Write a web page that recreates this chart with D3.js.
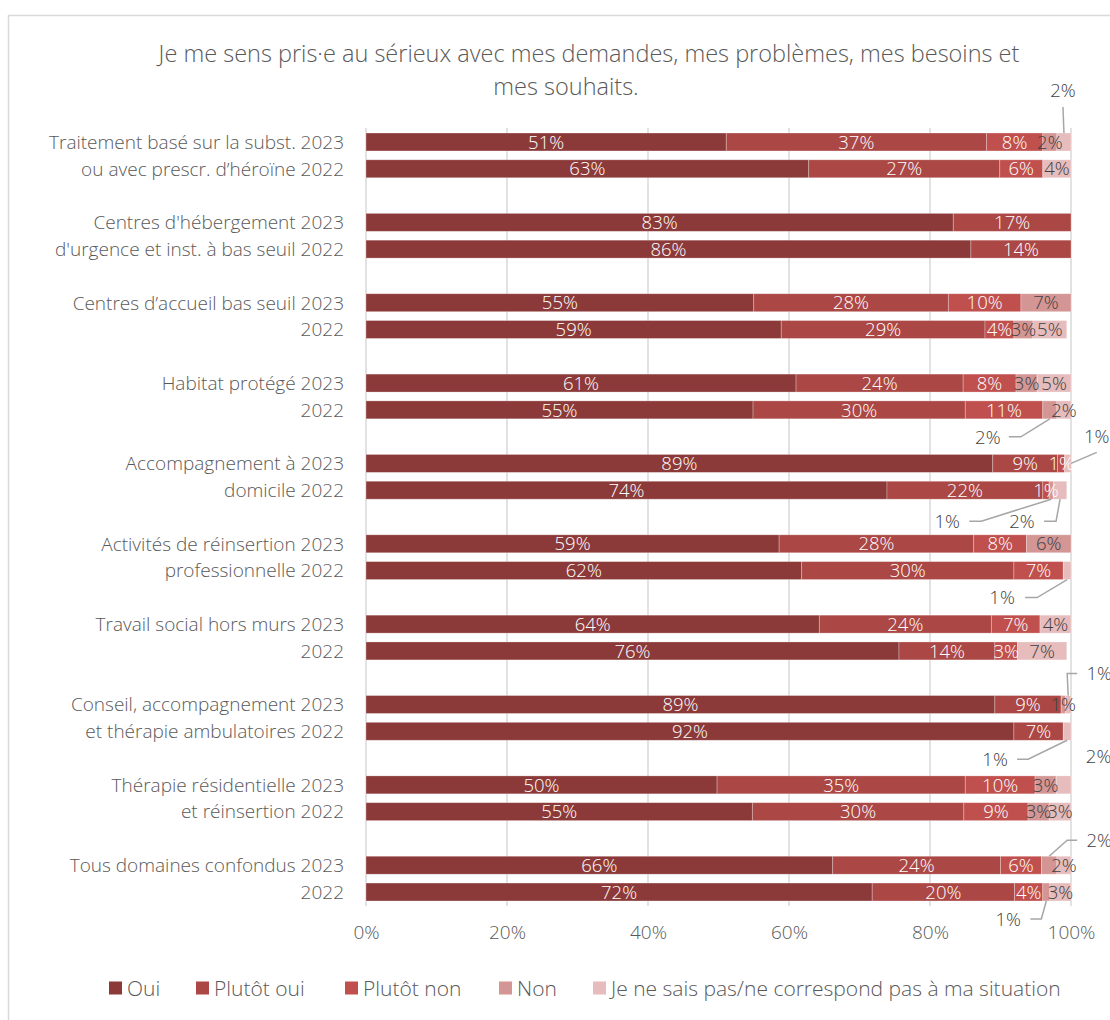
<!DOCTYPE html>
<html>
<head>
<meta charset="utf-8">
<script src="https://cdn.jsdelivr.net/npm/d3@7"></script>
<style>
  body { margin: 0; background: #fff; }
  text { font-family: "Open Sans", Lato, sans-serif; font-weight: 300; }
</style>
</head>
<body>
<div id="chart"></div>
<script>
// 0. Size of the picture
const width = 1110;
const height = 1020;

// Data: one entry per bar row, 2023 then 2022 for each domain
const groupFirstLine = [
  "Traitement basé sur la subst.",
  "Centres d'hébergement",
  "Centres d’accueil bas seuil",
  "Habitat protégé",
  "Accompagnement à",
  "Activités de réinsertion",
  "Travail social hors murs",
  "Conseil, accompagnement",
  "Thérapie résidentielle",
  "Tous domaines confondus",
];
const groupSecondLine = [
  "ou avec prescr. d’héroïne",
  "d'urgence et inst. à bas seuil",
  "",
  "",
  "domicile",
  "professionnelle",
  "",
  "et thérapie ambulatoires",
  "et réinsertion",
  "",
];
const years = ["2023", "2022"];

const seriesNames = [
  "Oui",
  "Plutôt oui",
  "Plutôt non",
  "Non",
  "Je ne sais pas/ne correspond pas à ma situation",
];

const oui = [51.1, 62.8, 83.3, 85.8, 55.0, 58.9, 61.0, 54.9, 88.9, 73.9, 58.6, 61.8, 64.3, 75.6, 89.2, 91.9, 49.8, 54.8, 66.2, 71.8];
const plutotOui = [36.9, 27.1, 16.7, 14.2, 27.6, 28.9, 23.7, 30.1, 9.2, 22.1, 27.6, 30.1, 24.4, 13.6, 9.4, 7.0, 35.2, 30.0, 23.8, 20.2];
const plutotNon = [8.0, 6.1, 0, 0, 10.3, 4.1, 7.5, 11.0, 1.0, 0.9, 7.5, 7.0, 6.9, 3.2, 0, 0, 9.9, 9.1, 5.8, 4.0];
const non = [2.0, 0, 0, 0, 7.1, 2.7, 3.0, 2.0, 0, 0.6, 6.3, 0, 0, 0, 0.6, 0, 3.0, 3.0, 2.2, 1.0];
const jnsp = [2.0, 4.0, 0, 0, 0, 4.8, 4.8, 2.0, 0.9, 1.9, 0, 1.1, 4.4, 7.0, 0.8, 1.1, 2.1, 3.1, 2.0, 3.0];

const tickValues = [0, 20, 40, 60, 80, 100];

const colors = ["#8C3A39", "#AB4745", "#C0504D", "#D49694", "#E6BCBC"];
const keys = ["oui", "plutotOui", "plutotNon", "non", "jnsp"];

// labels drawn outside the bar with a leader line (row, series, offsets of the label)
const callouts = [
  { row: 0, key: "jnsp", dx: -1, dy: -52, leader: [[0, 17]], end: "top" },
  { row: 7, key: "non", dx: -62, dy: 27, leader: [[21, 0], [33, 0]], end: "bottom" },
  { row: 8, key: "jnsp", dx: 29, dy: -27, leader: [[0, 16]], end: "right" },
  { row: 9, key: "non", dx: -104, dy: 31, leader: [[22, 0], [34, 0]], end: "bottom" },
  { row: 9, key: "jnsp", dx: -38, dy: 31, leader: [[22, 0], [34, 0]], end: "bottom" },
  { row: 11, key: "jnsp", dx: -65, dy: 27, leader: [[23, 0], [35, 0]], end: "bottom" },
  { row: 14, key: "jnsp", dx: 31, dy: -31, leader: [[-22, 0], [-32, 0]], end: "top" },
  { row: 15, key: "jnsp", dx: -72, dy: 28, leader: [[22, 0], [33, 0]], end: "bottom" },
  { row: 16, key: "jnsp", dx: 35, dy: -29, leader: [], end: null },
  { row: 18, key: "non", dx: 50, dy: -25, leader: [[-22, 0], [-32, 0]], end: "top" },
  { row: 19, key: "non", dx: -38, dy: 27, leader: [[22, 0], [33, 0]], end: "bottom" },
];

// 1. Build the table of rows
const rows = [];
groupFirstLine.forEach((g, gi) => {
  years.forEach((yr, yi) => {
    const i = gi * 2 + yi;
    const line = yi === 0 ? groupFirstLine[gi] : groupSecondLine[gi];
    rows.push({
      slot: gi * 3 + yi,
      label: (line ? line + " " : "") + yr,
      oui: oui[i],
      plutotOui: plutotOui[i],
      plutotNon: plutotNon[i],
      non: non[i],
      jnsp: jnsp[i],
    });
  });
});

const stacked = d3.stack().keys(keys)(rows);

// 2. Scales
const x = d3.scaleLinear().domain([0, 100]).range([366, 1071]);
const y = d3
  .scaleBand()
  .domain(d3.range(29))
  .range([128.6, 905.4])
  .paddingInner(0.33)
  .paddingOuter(0.165);

const svg = d3
  .select("#chart")
  .append("svg")
  .attr("width", width)
  .attr("height", height);

// border of the chart area
svg
  .append("rect")
  .attr("x", 8.5)
  .attr("y", 15.5)
  .attr("width", 1200)
  .attr("height", 1100)
  .attr("fill", "none")
  .attr("stroke", "#D9D9D9")
  .attr("stroke-width", 1.5);

// 3. Title
const titleLines = [
  "Je me sens pris·e au sérieux avec mes demandes, mes problèmes, mes besoins et",
  "mes souhaits.",
];
svg
  .selectAll(".title")
  .data(titleLines)
  .enter()
  .append("text")
  .attr("class", "title")
  .attr("x", (d, i) => (i === 0 ? 589 : 566))
  .attr("y", (d, i) => 62 + i * 33)
  .attr("text-anchor", "middle")
  .style("font-size", "23.5px")
  .style("fill", "#595959")
  .text((d) => d);

// 4. Gridlines
svg
  .append("g")
  .selectAll("line")
  .data(tickValues)
  .enter()
  .append("line")
  .attr("x1", (d) => x(d))
  .attr("x2", (d) => x(d))
  .attr("y1", 128)
  .attr("y2", 906)
  .attr("stroke", "#D9D9D9")
  .attr("stroke-width", 1.5);

// x axis labels
const xAxis = svg
  .append("g")
  .attr("transform", "translate(0,919)")
  .call(
    d3
      .axisBottom(x)
      .tickValues(tickValues)
      .tickSize(0)
      .tickPadding(6)
      .tickFormat((d) => d + "%")
  );
xAxis.select(".domain").remove();
xAxis
  .selectAll("text")
  .style("font-family", "'Open Sans', sans-serif")
  .style("font-weight", 300)
  .style("font-size", "19px")
  .style("fill", "#595959");

// 5. Bars
const layer = svg
  .selectAll(".layer")
  .data(stacked)
  .enter()
  .append("g")
  .attr("class", "layer")
  .attr("fill", (d, i) => colors[i]);

layer
  .selectAll("rect")
  .data((d) => d)
  .enter()
  .append("rect")
  .attr("x", (d) => x(d[0]))
  .attr("y", (d) => y(d.data.slot))
  .attr("width", (d) => x(d[1]) - x(d[0]))
  .attr("height", y.bandwidth())
  .attr("stroke", "#fff")
  .attr("stroke-opacity", 0.35)
  .attr("stroke-width", 0.8);

// labels inside segments
const isCallout = (row, key) =>
  callouts.some((c) => c.row === row && c.key === key);

stacked.forEach((s, si) => {
  svg
    .append("g")
    .selectAll("text")
    .data(s.map((d, i) => ({ d, i })).filter(({ d, i }) => d[1] - d[0] > 0 && !isCallout(i, s.key)))
    .enter()
    .append("text")
    .attr("x", ({ d }) => (x(d[0]) + x(d[1])) / 2)
    .attr("y", ({ d }) => y(d.data.slot) + y.bandwidth() / 2)
    .attr("dy", "0.36em")
    .attr("text-anchor", "middle")
    .style("font-size", "18.5px")
    .style("fill", si < 3 ? "#fff" : "#404040")
    .text(({ d }) => Math.round(d[1] - d[0]) + "%");
});

// callout labels with leader lines
callouts.forEach((c) => {
  const si = keys.indexOf(c.key);
  const d = stacked[si][c.row];
  const cx = (x(d[0]) + x(d[1])) / 2;
  const cy = y(d.data.slot) + y.bandwidth() / 2;
  const lx = cx + c.dx;
  const ly = cy + c.dy;

  if (c.end) {
    const pts = c.leader.map((p) => [lx + p[0], ly + p[1]]);
    if (c.end === "top") pts.push([cx, y(d.data.slot)]);
    if (c.end === "bottom") pts.push([cx, y(d.data.slot) + y.bandwidth()]);
    if (c.end === "right") pts.push([x(d[1]), cy]);
    svg
      .append("path")
      .attr("d", d3.line()(pts))
      .attr("fill", "none")
      .attr("stroke", "#A6A6A6")
      .attr("stroke-width", 1.5);
  }

  svg
    .append("text")
    .attr("x", lx)
    .attr("y", ly)
    .attr("dy", "0.36em")
    .attr("text-anchor", "middle")
    .style("font-size", "18.5px")
    .style("fill", "#404040")
    .text(Math.round(d[1] - d[0]) + "%");
});

// 6. Row labels
svg
  .append("g")
  .selectAll("text")
  .data(rows)
  .enter()
  .append("text")
  .attr("x", 344)
  .attr("y", (d) => y(d.slot) + y.bandwidth() / 2)
  .attr("dy", "0.36em")
  .attr("text-anchor", "end")
  .style("font-size", "19px")
  .style("fill", "#595959")
  .text((d) => d.label);

// 7. Legend
const legendX = [109, 196, 345, 499, 593];
const legend = svg
  .selectAll(".legend")
  .data(seriesNames)
  .enter()
  .append("g")
  .attr("class", "legend")
  .attr("transform", (d, i) => `translate(${legendX[i]}, 988)`);

legend
  .append("rect")
  .attr("x", 0)
  .attr("y", -6.5)
  .attr("width", 13)
  .attr("height", 13)
  .attr("fill", (d, i) => colors[i]);

legend
  .append("text")
  .attr("x", 18)
  .attr("y", 0)
  .attr("dy", "0.36em")
  .style("font-size", "21px")
  .style("fill", "#595959")
  .text((d) => d);
</script>
</body>
</html>
